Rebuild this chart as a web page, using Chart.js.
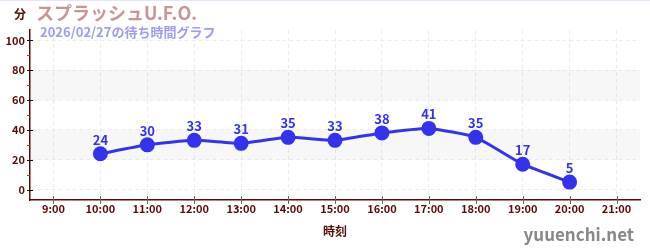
<!DOCTYPE html>
<html><head><meta charset="utf-8">
<script src="https://cdn.jsdelivr.net/npm/chart.js@4"></script>
<style>html,body{margin:0;padding:0;background:#fff}#wrap{width:650px;height:250px}</style>
</head><body><div id="wrap"><canvas id="c" width="650" height="250"></canvas></div>
<script>
const hours = [10, 11, 12, 13, 14, 15, 16, 17, 18, 19, 20];
const waits = [24, 30, 33, 31, 35, 33, 38, 41, 35, 17, 5];
const xTickHours = [9, 10, 11, 12, 13, 14, 15, 16, 17, 18, 19, 20, 21];
const yTickValues = [0, 20, 40, 60, 80, 100];
const yMinorValues = [10, 30, 50, 70, 90];
const bandRanges = [[20, 40], [60, 80]];
const titleText = 'スプラッシュU.F.O.';
const subtitleText = '2026/02/27の待ち時間グラフ';
const yUnitText = '分';
const xTitleText = '時刻';
const watermarkText = 'yuuenchi.net';

const FONT = '"Noto Sans CJK JP", "Noto Sans", sans-serif';
const AXIS = '#5a0a0a';
const BLUE = '#3333ee';

const deco = {
  id: 'deco',
  beforeDatasetsDraw(chart) {
    const {ctx, chartArea: a, scales: {x, y}} = chart;
    ctx.save();
    ctx.fillStyle = 'rgba(0,0,0,0.03)';
    bandRanges.forEach(([lo, hi]) => {
      const t = y.getPixelForValue(hi), b = y.getPixelForValue(lo);
      ctx.fillRect(a.left, t, a.right - a.left, b - t);
    });
    ctx.restore();
  },
  afterDatasetsDraw(chart) {
    const {ctx, chartArea: a, scales: {x, y}} = chart;
    ctx.save();
    ctx.strokeStyle = '#dd2222';
    ctx.lineWidth = 1;
    yMinorValues.forEach(v => {
      const py = Math.round(y.getPixelForValue(v)) + 0.5;
      ctx.beginPath(); ctx.moveTo(a.left - 3, py); ctx.lineTo(a.left, py); ctx.stroke();
    });
    ctx.strokeStyle = '#111';
    yTickValues.forEach(v => {
      const py = Math.round(y.getPixelForValue(v)) + 0.5;
      ctx.beginPath(); ctx.moveTo(a.left - 3, py); ctx.lineTo(a.left + 3, py); ctx.stroke();
    });
    ctx.strokeStyle = '#666';
    xTickHours.forEach(h => {
      const px = Math.round(x.getPixelForValue(h)) + 0.5;
      ctx.beginPath(); ctx.moveTo(px, a.bottom - 4); ctx.lineTo(px, a.bottom + 4); ctx.stroke();
    });
    ctx.fillStyle = BLUE;
    ctx.font = 'bold 13px ' + FONT;
    ctx.textAlign = 'center';
    ctx.textBaseline = 'alphabetic';
    const meta = chart.getDatasetMeta(0);
    meta.data.forEach((pt, i) => {
      ctx.fillText(String(waits[i]), pt.x, pt.y - 9);
    });
    ctx.textAlign = 'left';
    ctx.fillStyle = '#c99696';
    ctx.font = 'bold 18px ' + FONT;
    ctx.fillText(titleText, 36, 20);
    ctx.fillStyle = '#9c9cf2';
    ctx.font = 'bold 13px ' + FONT;
    ctx.fillText(subtitleText, 40, 37);
    ctx.fillStyle = AXIS;
    ctx.font = 'bold 12px ' + FONT;
    ctx.fillText(yUnitText, 14, 19);
    ctx.textAlign = 'center';
    ctx.fillText(xTitleText, (a.left + a.right) / 2, 236);
    ctx.textAlign = 'right';
    ctx.fillStyle = '#888';
    ctx.font = 'bold 17px ' + FONT;
    ctx.fillText(watermarkText, 634, 241);
    ctx.fillStyle = '#e6e6f6';
    ctx.fillRect(0, 0, 650, 1);
    ctx.restore();
  }
};

new Chart(document.getElementById('c'), {
  type: 'line',
  data: {
    datasets: [{
      data: hours.map((h, i) => ({x: h, y: waits[i]})),
      borderColor: BLUE,
      backgroundColor: BLUE,
      borderWidth: 3,
      pointRadius: 6,
      pointHoverRadius: 6,
      pointBackgroundColor: BLUE,
      pointBorderColor: BLUE,
      tension: 0.15
    }]
  },
  options: {
    responsive: false,
    animation: false,
    events: [],
    layout: {padding: {left: 0, right: 10, top: 30, bottom: 0}},
    plugins: {legend: {display: false}, tooltip: {enabled: false}, title: {display: false}},
    scales: {
      x: {
        type: 'linear', min: 8.5, max: 21.5,
        afterBuildTicks: s => { s.ticks = xTickHours.map(v => ({value: v})); },
        afterFit: s => { s.height = 50; },
        ticks: {
          color: AXIS, font: {family: FONT, size: 11, weight: 'bold'}, padding: 2,
          maxRotation: 0, autoSkip: false,
          callback: v => v + ':00'
        },
        grid: {color: '#ececec', drawTicks: false},
        border: {color: AXIS, width: 1.5, dash: [4, 3]},
      },
      y: {
        min: -7, max: 107,
        afterBuildTicks: s => { s.ticks = yTickValues.map(v => ({value: v})); },
        afterFit: s => { s.width = 30; },
        ticks: {color: AXIS, font: {family: FONT, size: 11, weight: 'bold'}, padding: 5},
        grid: {color: '#ececec', drawTicks: false},
        border: {color: AXIS, width: 1.5, dash: [4, 3]}
      }
    }
  },
  plugins: [deco]
});
</script>
</body></html>
